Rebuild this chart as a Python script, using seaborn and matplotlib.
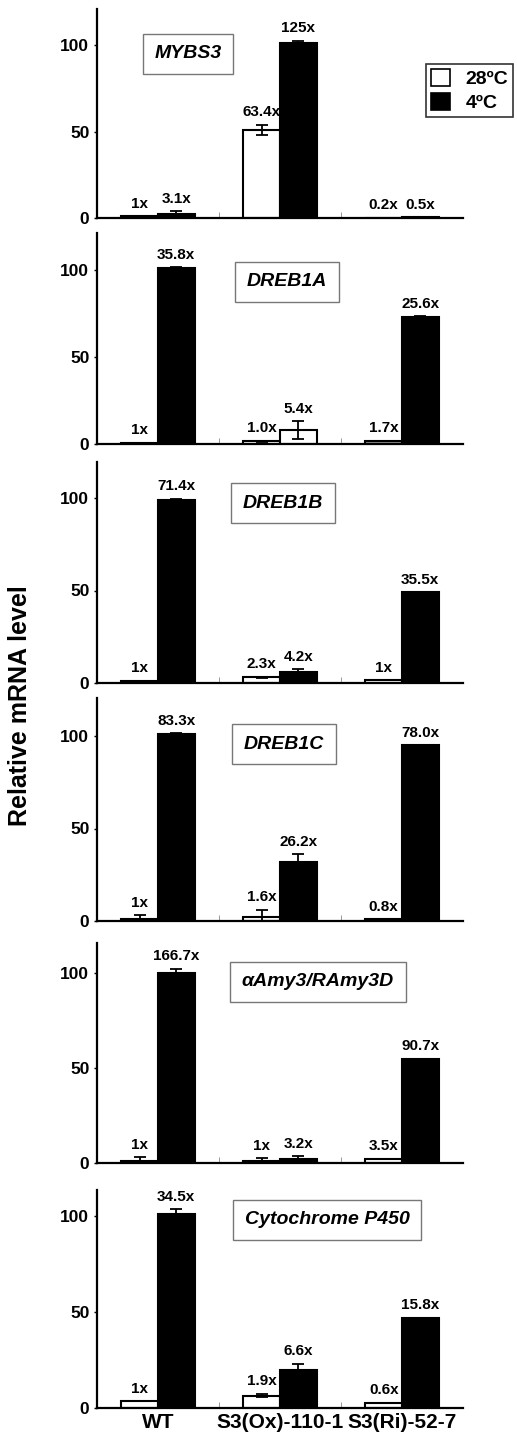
import numpy as np
import pandas as pd
import matplotlib
matplotlib.use("Agg")
import matplotlib.pyplot as plt
from matplotlib.patches import Patch
import seaborn as sns


# =====================================
# DATA
# =====================================

groups = ["WT", "S3(Ox)-110-1", "S3(Ri)-52-7"]
temps = ["28ºC", "4ºC"]
genes = ["MYBS3", "DREB1A", "DREB1B", "DREB1C", "αAmy3/RAmy3D", "Cytochrome P450"]

# relative mRNA level (28ºC, 4ºC) per group
mybs3_28 = [1.2, 51, 0.2]
mybs3_4 = [2.5, 101, 0.4]
mybs3_err28 = [0, 3, 0]
mybs3_err4 = [1.5, 1.5, 0]
mybs3_fold28 = ["1x", "63.4x", "0.2x"]
mybs3_fold4 = ["3.1x", "125x", "0.5x"]

dreb1a_28 = [0.8, 1.5, 2.0]
dreb1a_4 = [101, 8, 73]
dreb1a_err28 = [0, 0.5, 0]
dreb1a_err4 = [0.5, 5, 0.5]
dreb1a_fold28 = ["1x", "1.0x", "1.7x"]
dreb1a_fold4 = ["35.8x", "5.4x", "25.6x"]

dreb1b_28 = [1.3, 3, 1.4]
dreb1b_4 = [99, 6, 49]
dreb1b_err28 = [0, 0.5, 0]
dreb1b_err4 = [0.5, 1.5, 0]
dreb1b_fold28 = ["1x", "2.3x", "1x"]
dreb1b_fold4 = ["71.4x", "4.2x", "35.5x"]

dreb1c_28 = [1.2, 2, 1]
dreb1c_4 = [101, 32, 95]
dreb1c_err28 = [2, 4, 0]
dreb1c_err4 = [0.5, 4, 0]
dreb1c_fold28 = ["1x", "1.6x", "0.8x"]
dreb1c_fold4 = ["83.3x", "26.2x", "78.0x"]

amy3_28 = [1, 1, 2]
amy3_4 = [100, 2, 55]
amy3_err28 = [2, 1.5, 0]
amy3_err4 = [2, 1.5, 0]
amy3_fold28 = ["1x", "1x", "3.5x"]
amy3_fold4 = ["166.7x", "3.2x", "90.7x"]

p450_28 = [3.5, 6.5, 2.5]
p450_4 = [101, 20, 47]
p450_err28 = [0, 1, 0]
p450_err4 = [2.5, 3, 0]
p450_fold28 = ["1x", "1.9x", "0.6x"]
p450_fold4 = ["34.5x", "6.6x", "15.8x"]

panels = [
    (mybs3_28, mybs3_4, mybs3_err28, mybs3_err4, mybs3_fold28, mybs3_fold4),
    (dreb1a_28, dreb1a_4, dreb1a_err28, dreb1a_err4, dreb1a_fold28, dreb1a_fold4),
    (dreb1b_28, dreb1b_4, dreb1b_err28, dreb1b_err4, dreb1b_fold28, dreb1b_fold4),
    (dreb1c_28, dreb1c_4, dreb1c_err28, dreb1c_err4, dreb1c_fold28, dreb1c_fold4),
    (amy3_28, amy3_4, amy3_err28, amy3_err4, amy3_fold28, amy3_fold4),
    (p450_28, p450_4, p450_err28, p450_err4, p450_fold28, p450_fold4),
]


# =====================================
# LAYOUT (pixels of a 517x1440 canvas)
# =====================================

W, H = 517, 1440
ax_left, ax_right = 97, 463
# baseline y, top y, px per unit
frames = [
    (218, 9, 1.73),
    (444, 233, 1.74),
    (683, 462, 1.85),
    (921, 698, 1.85),
    (1163, 943, 1.90),
    (1408, 1190, 1.92),
]
# gene label box centres
label_pos = [(188, 54), (287, 282), (283, 503), (284, 744), (318, 982), (327, 1220)]

# a few bars drawn with a different fill in the original
face_override = {(1, 1, 1): "white", (1, 0, 2): "#999999"}


# =====================================
# STYLE
# =====================================

sns.set_style("ticks")
plt.rcParams["font.family"] = ["Liberation Sans", "DejaVu Sans"]
plt.rcParams["font.weight"] = "bold"
plt.rcParams["text.color"] = "black"
plt.rcParams["axes.edgecolor"] = "black"
plt.rcParams["xtick.color"] = "black"
plt.rcParams["ytick.color"] = "black"

palette = {"28ºC": "white", "4ºC": "black"}

fig = plt.figure(figsize=(W / 100, H / 100), dpi=100)


# =====================================
# PANELS
# =====================================

for i, (v28, v4, e28, e4, f28, f4) in enumerate(panels):

    base, top, scale = frames[i]
    ymax = (base - top) / scale

    ax = fig.add_axes([
        ax_left / W,
        (H - base) / H,
        (ax_right - ax_left) / W,
        (base - top) / H
    ])

    df = pd.DataFrame({
        "group": groups * 2,
        "temp": [temps[0]] * 3 + [temps[1]] * 3,
        "value": v28 + v4
    })

    sns.barplot(
        data=df,
        x="group",
        y="value",
        hue="temp",
        hue_order=temps,
        order=groups,
        palette=palette,
        edgecolor="black",
        linewidth=1.5,
        width=0.6,
        errorbar=None,
        legend=False,
        ax=ax
    )

    errs = [e28, e4]
    folds = [f28, f4]
    bar_containers = list(ax.containers)

    for h_i, container in enumerate(bar_containers):
        for g_i, bar in enumerate(container.patches):
            key = (i, h_i, g_i)
            if key in face_override:
                bar.set_facecolor(face_override[key])
            x = bar.get_x() + bar.get_width() / 2
            h = bar.get_height()
            e = errs[h_i][g_i]
            if e > 0:
                ax.errorbar(
                    x, h, yerr=e,
                    color="black",
                    capsize=4,
                    elinewidth=1.3,
                    capthick=1.3
                )
            ax.text(
                x, h + e + 3,
                folds[h_i][g_i],
                ha="center",
                va="bottom",
                fontsize=11,
                fontweight="bold"
            )

    ax.set_xlim(-0.5, 2.5)
    ax.set_ylim(0, ymax)
    ax.set_yticks([0, 50, 100])
    ax.set_yticklabels(["0", "50", "100"], fontsize=12.5, fontweight="bold")
    ax.set_xticks([0.5, 1.5], minor=True)
    ax.tick_params(axis="x", which="major", length=0)
    ax.tick_params(axis="x", which="minor", direction="in", length=4,
                   color="#888888")
    ax.tick_params(axis="y", length=2, width=1)

    if i == len(panels) - 1:
        ax.set_xticklabels(groups, fontsize=15, fontweight="bold")
    else:
        ax.set_xticklabels([])

    ax.set_xlabel("")
    ax.set_ylabel("")
    sns.despine(ax=ax)
    for side in ["left", "bottom"]:
        ax.spines[side].set_linewidth(1.6)

    cx, cy = label_pos[i]
    fig.text(
        cx / W, 1 - cy / H,
        genes[i],
        ha="center",
        va="center",
        fontsize=14,
        fontweight="bold",
        fontstyle="italic",
        bbox=dict(boxstyle="square,pad=0.6", fc="white", ec="#777777", lw=1)
    )


# =====================================
# LEGEND AND AXIS LABEL
# =====================================

handles = [
    Patch(facecolor=palette[t], edgecolor="black", linewidth=1.2, label=t)
    for t in temps
]

leg = fig.legend(
    handles=handles,
    loc="upper left",
    bbox_to_anchor=(416 / W, 1 - 54 / H),
    frameon=True,
    fancybox=False,
    handlelength=1.0,
    handleheight=1.0,
    handletextpad=0.8,
    borderpad=0.25,
    labelspacing=0.25,
    prop={"size": 14, "weight": "bold"}
)
leg.get_frame().set_edgecolor("black")
leg.get_frame().set_linewidth(1.2)

fig.text(
    20 / W, 1 - 706 / H,
    "Relative mRNA level",
    rotation=90,
    ha="center",
    va="center",
    fontsize=18,
    fontweight="bold"
)

fig.savefig("out.png", dpi=100)
